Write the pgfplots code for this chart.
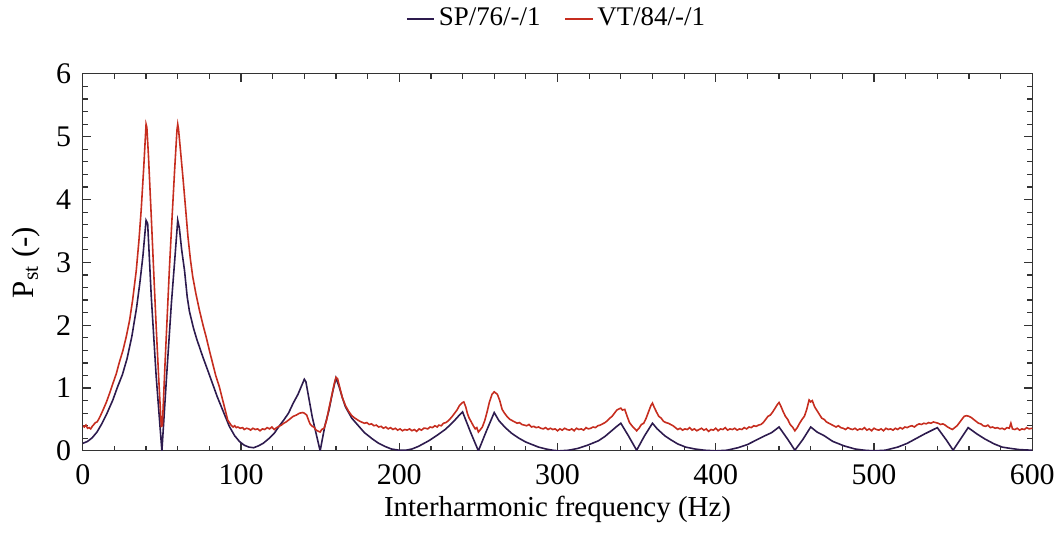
\documentclass[border=0pt]{standalone}
\usepackage{fontspec}
\setmainfont{Liberation Serif}
\usepackage{pgfplots}
\pgfplotsset{compat=1.18}
\definecolor{spcol}{HTML}{2D1B4E}
\definecolor{vtcol}{HTML}{C62D1F}
\definecolor{axcol}{HTML}{333333}
\begin{document}
\fontsize{14}{17}\selectfont
\begin{tikzpicture}
\begin{axis}[
  name=ax,
  scale only axis,
  width=476pt, height=189pt,
  xmin=0, xmax=600, ymin=0, ymax=6,
  xtick={0,100,...,600}, ytick={0,1,...,6},
  minor x tick num=4, minor y tick num=4,
  major tick length=4pt, minor tick length=2.5pt,
  tick align=inside,
  axis line style={axcol, line width=0.6pt},
  every tick/.style={axcol, line width=0.6pt},
  /pgf/number format/assume math mode=true,
  tick label style={font=\fontsize{15}{18}\selectfont},
  xticklabel style={yshift=-2pt},
  yticklabel style={xshift=-1pt},
  xlabel={Interharmonic frequency (Hz)},
  ylabel={P\textsubscript{st} (-)},
  label style={font=\fontsize{14.5}{17}\selectfont},
  xlabel style={yshift=4pt},
  ylabel style={font=\fontsize{15.5}{18}\selectfont, yshift=-1.5pt},
  legend style={at={(0.5,1.1455)}, anchor=center, draw=none, fill=none,
    font=\fontsize{13.5}{16}\selectfont,
    legend columns=2, /tikz/every even column/.append style={column sep=10pt}},
  legend image post style={line width=0.8pt},
  legend image code/.code={\draw[#1] (0cm,0cm) -- (0.48cm,0cm);},
]
\addplot[spcol, line width=0.8pt] coordinates {
(0,0.12) (3,0.15) (6,0.21) (9,0.30) (12,0.43) (15,0.58) (19,0.81) (22,1.02) (25,1.21) (28,1.47)
(31,1.82) (34,2.28) (36,2.66) (38,3.10) (40,3.67) (41,3.62) (43.3,2.45) (46.4,1.18) (50,0)
(53,1.2) (56,2.35) (58,3.0) (60,3.67) (61,3.55) (62.5,3.2) (64.3,2.87) (66,2.45) (67.4,2.22)
(70,1.95) (72,1.78) (75.8,1.5) (79,1.28) (82,1.07) (85,0.86) (88.4,0.65) (92.6,0.39) (96,0.24)
(99,0.15) (102,0.09) (105,0.06) (108,0.05) (111,0.08) (114,0.12) (117.8,0.2) (121,0.28) (124,0.39)
(127,0.49) (130,0.6) (133,0.76) (136,0.9) (138,1.02) (140,1.14) (141,1.1) (145,0.54) (150,0)
(153,0.4) (155.6,0.65) (158,0.95) (160,1.16) (162,1.02) (164,0.85) (166,0.70) (170,0.52)
(174.5,0.39) (178,0.29) (183,0.19) (187,0.12) (191,0.07) (195,0.03) (200,0.01) (204,0.01)
(208,0.03) (212,0.07) (218.6,0.16) (224,0.25) (229,0.34) (232,0.41) (235.5,0.5) (238,0.57)
(240,0.62) (245,0.3) (250,0) (254.8,0.3) (260,0.61) (263,0.48) (267,0.37) (271,0.28) (275.7,0.2)
(280,0.14) (284,0.10) (288,0.06) (292.7,0.03) (297,0.01) (301,0.0) (307,0.01) (313,0.04)
(319,0.09) (325.8,0.16) (330,0.23) (334.2,0.32) (337,0.38) (340,0.44) (344.8,0.24) (350,0.01)
(355,0.24) (360,0.44) (363,0.35) (367.8,0.24) (372,0.17) (376,0.11) (381,0.06) (386.8,0.03)
(393,0.01) (400,0) (407,0.01) (414,0.05) (420,0.1) (427,0.19) (431,0.24) (435.3,0.29) (440,0.38)
(445.6,0.18) (450,0.01) (455,0.18) (460,0.38) (464,0.3) (468.6,0.24) (474,0.15) (481,0.08)
(488,0.03) (494,0.01) (500,0) (507,0.01) (515,0.06) (521,0.12) (527.6,0.21) (532,0.27) (536,0.32)
(540,0.37) (545.5,0.18) (550,0.01) (555,0.2) (559.5,0.37) (565,0.27) (570,0.19) (576,0.11)
(581,0.06) (586,0.04) (592,0.02) (600,0.01)
};
\addlegendentry{SP/76/-/1}
\addplot[vtcol, line width=0.8pt] coordinates {
(0,0.40) (1,0.38) (2,0.41) (3,0.36) (4,0.37) (5,0.35) (6,0.39) (7,0.42) (8,0.45) (9,0.46)
(10,0.50) (11,0.55) (12.8,0.65) (15,0.78) (17,0.92) (19,1.07) (21.2,1.23) (23,1.40) (25.4,1.60)
(27.5,1.82) (29.6,2.08) (31.5,2.40) (33.8,2.87) (35.5,3.35) (36.9,3.83) (38.5,4.50) (40,5.20)
(40.5,5.15) (41.5,4.70) (43.3,3.72) (45,2.75) (46.4,1.97) (48,1.15) (49.6,0.39) (50.3,0.40)
(52,1.40) (54.8,2.93) (56.5,3.75) (58,4.45) (59.5,5.10) (60,5.20) (60.5,5.12) (61.5,4.85)
(63.3,4.35) (65,3.85) (66.5,3.40) (68,3.05) (69.5,2.77) (71.5,2.50) (73.7,2.24) (76,2.00)
(78,1.81) (80,1.60) (82.1,1.39) (84,1.20) (86.3,1.02) (88,0.85) (89.5,0.70) (91.6,0.49)
(93.7,0.41) (95,0.38) (96,0.40) (97,0.37) (98,0.38) (99.5,0.36) (101,0.37) (102,0.34)
(103.5,0.36) (105,0.35) (106,0.33) (107.5,0.36) (109,0.34) (110.5,0.35) (112,0.32) (113.5,0.35)
(115,0.34) (116.5,0.37) (118,0.35) (119.5,0.38) (121,0.34) (122.5,0.37) (124,0.39) (125.5,0.41)
(127,0.44) (128.5,0.46) (130,0.49) (131.5,0.52) (133,0.55) (135,0.57) (137,0.60) (139,0.61)
(140,0.60) (141.5,0.57) (142.5,0.50) (143.6,0.43) (145,0.39) (146,0.38) (147.5,0.33) (149,0.31)
(150,0.30) (151,0.34) (152.5,0.36) (154,0.48) (155.6,0.68) (157.5,0.90) (159,1.08) (160,1.17)
(161,1.15) (162.5,1.00) (164,0.85) (166,0.72) (168,0.63) (170,0.56) (172,0.52) (174.5,0.48)
(176,0.46) (178,0.44) (179.5,0.45) (181,0.42) (182.5,0.43) (184,0.40) (185.5,0.41) (187,0.38)
(188.5,0.39) (190,0.36) (191.5,0.38) (193,0.35) (194.5,0.37) (196,0.34) (197.5,0.36) (199,0.33)
(200.5,0.35) (202,0.32) (203.5,0.34) (205,0.33) (206.5,0.35) (208,0.32) (209.5,0.34) (211,0.31)
(212.5,0.35) (214,0.33) (215.5,0.36) (216.5,0.36) (218,0.35) (219.5,0.38) (221,0.37) (222.5,0.40)
(224,0.38) (225,0.41) (226.5,0.40) (228,0.44) (229.5,0.45) (231,0.48) (232.5,0.52) (233.5,0.55)
(235,0.60) (236.5,0.65) (238,0.72) (238.7,0.74) (240,0.77) (240.8,0.78) (242,0.70) (243,0.60)
(244,0.53) (245.5,0.46) (247,0.39) (248,0.35) (249,0.37) (250,0.30) (251,0.33) (252.5,0.38)
(254,0.48) (255.5,0.62) (257,0.78) (258.6,0.90) (260,0.94) (262,0.90) (263.5,0.80) (265,0.66)
(266.5,0.60) (268,0.55) (270,0.50) (271.5,0.48) (273,0.46) (274.5,0.44) (276,0.45) (277.5,0.42)
(279,0.41) (280.5,0.40) (282,0.42) (283.5,0.38) (285,0.39) (286.5,0.37) (288,0.38) (289.5,0.36)
(291,0.35) (292.5,0.37) (294,0.34) (295.5,0.36) (297,0.34) (298.5,0.35) (300,0.32) (301.5,0.35)
(303,0.33) (304.5,0.36) (306,0.34) (307.5,0.33) (309,0.35) (310.5,0.32) (312,0.36) (313.5,0.34)
(315,0.35) (316.5,0.33) (318,0.37) (319.5,0.35) (321,0.36) (322.5,0.38) (324,0.37) (325.5,0.40)
(327,0.41) (328.5,0.43) (330,0.45) (331.5,0.48) (333,0.52) (334.5,0.55) (336,0.60) (337.5,0.65)
(339,0.67) (340,0.68) (341,0.65) (342.5,0.66) (344,0.55) (345.5,0.45) (347,0.40) (348.5,0.36)
(350,0.32) (351.5,0.36) (353,0.42) (354.5,0.44) (356,0.52) (357.5,0.62) (359,0.72) (360,0.76)
(361,0.70) (362.5,0.62) (364,0.55) (365.5,0.52) (367,0.47) (368.5,0.45) (370,0.44) (371.5,0.42)
(373,0.40) (374.5,0.37) (376,0.34) (377.5,0.36) (379,0.33) (380.5,0.35) (382,0.34) (383.5,0.37)
(385,0.33) (386.5,0.35) (388,0.32) (389.5,0.34) (391,0.36) (392.5,0.33) (394,0.35) (395.5,0.31)
(397,0.34) (398.5,0.33) (400,0.36) (401.5,0.32) (403,0.35) (404.5,0.34) (406,0.37) (407.5,0.33)
(409,0.35) (410.5,0.34) (412,0.36) (413.5,0.33) (415,0.35) (416.5,0.34) (418,0.37) (419.5,0.35)
(421,0.38) (422.5,0.37) (424,0.40) (425.5,0.39) (427,0.41) (428.5,0.42) (430,0.45) (431.5,0.50)
(433,0.55) (434.5,0.57) (436,0.62) (437.5,0.68) (439,0.74) (440,0.77) (441,0.72) (442.5,0.63)
(444,0.55) (445.5,0.50) (447,0.42) (448.5,0.38) (450,0.32) (451.5,0.37) (453,0.44) (454.5,0.50)
(456,0.55) (457.5,0.66) (459,0.81) (460,0.78) (461,0.80) (462.5,0.70) (464,0.64) (465.5,0.58)
(467,0.52) (468.5,0.50) (470,0.46) (471.5,0.44) (473,0.42) (474.5,0.40) (476,0.38) (477.5,0.40)
(479,0.37) (480.5,0.36) (482,0.34) (483.5,0.37) (485,0.35) (486.5,0.34) (488,0.36) (489.5,0.33)
(491,0.35) (492.5,0.34) (494,0.37) (495.5,0.33) (497,0.35) (498.5,0.32) (500,0.36) (501.5,0.34)
(503,0.33) (504.5,0.35) (506,0.32) (507.5,0.36) (509,0.34) (510.5,0.35) (512,0.33) (513.5,0.36)
(515,0.34) (516.5,0.37) (518,0.35) (519.5,0.38) (521,0.37) (522.5,0.39) (524,0.40) (525.5,0.38)
(527,0.41) (528.5,0.43) (530,0.42) (531.5,0.44) (533,0.43) (534.5,0.45) (536,0.44) (537.5,0.46)
(539,0.45) (540.5,0.44) (542,0.42) (543.5,0.43) (545,0.41) (546.5,0.38) (548,0.36) (549.5,0.34)
(551,0.37) (552.5,0.40) (554,0.45) (555.5,0.50) (557,0.55) (558.5,0.56) (560,0.55) (561.5,0.53)
(563,0.50) (564.5,0.47) (566,0.44) (567.5,0.43) (569,0.40) (570.5,0.39) (572,0.41) (573.5,0.37)
(575,0.38) (576.5,0.36) (578,0.37) (579.5,0.35) (581,0.36) (582.5,0.34) (584,0.37) (585.5,0.36)
(586.5,0.44) (587.5,0.35) (589,0.34) (590.5,0.36) (592,0.33) (593.5,0.35) (595,0.34) (596.5,0.37)
(598,0.35) (600,0.36)
};
\addlegendentry{VT/84/-/1}
\end{axis}
\path ([shift={(-41.5pt,-42.5pt)}]ax.south west) rectangle ([shift={(14.5pt,36.5pt)}]ax.north east);
\end{tikzpicture}
\end{document}
